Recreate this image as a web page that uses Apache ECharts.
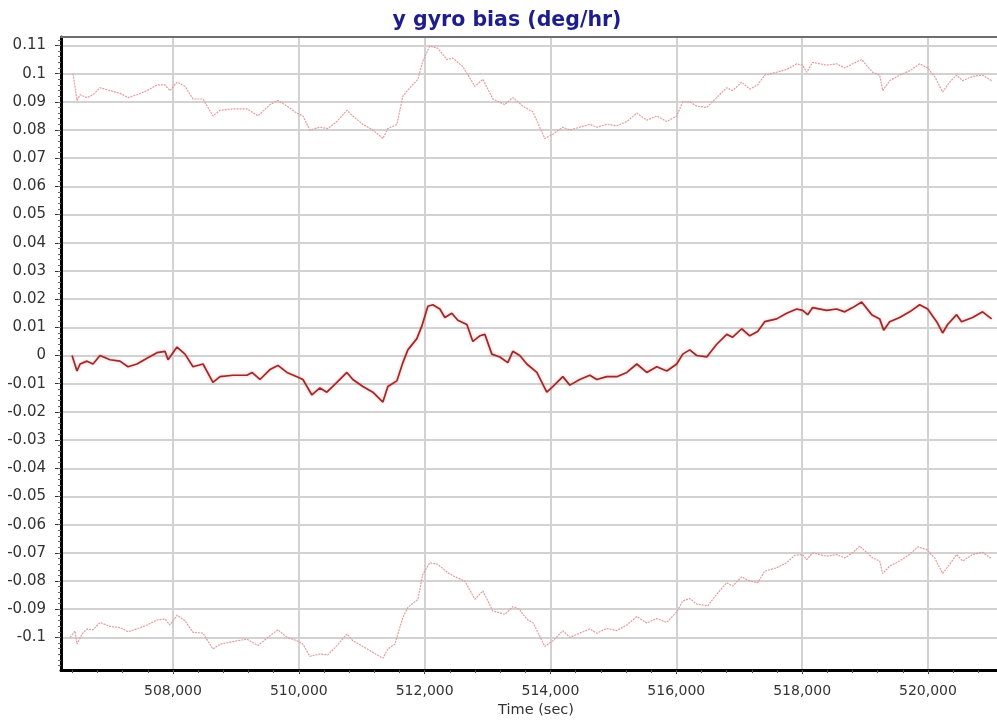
<!DOCTYPE html>
<html>
<head>
<meta charset="utf-8">
<script src="https://cdn.jsdelivr.net/npm/echarts@6/dist/echarts.min.js"></script>
<style>
html,body{margin:0;padding:0;background:#fff;}
#chart{width:997px;height:723px;}
</style>
</head>
<body>
<div id="chart"></div>
<script>
// ---- data ----
var chartTitle = 'y gyro bias (deg/hr)';
var xAxisName = 'Time (sec)';
var xTicks = [508000, 510000, 512000, 514000, 516000, 518000, 520000];
var yTicks = [-0.1, -0.09, -0.08, -0.07, -0.06, -0.05, -0.04, -0.03, -0.02, -0.01, 0, 0.01, 0.02, 0.03, 0.04, 0.05, 0.06, 0.07, 0.08, 0.09, 0.1, 0.11];

var midT = [506396,506474,506523,506634,506729,506840,506999,507158,507285,507428,507587,507746,507873,507921,508064,508191,508318,508477,508635,508747,508953,509176,509255,509382,509541,509668,509811,509970,510065,510208,510335,510446,510605,510764,510859,511018,511177,511336,511415,511558,511654,511733,511876,511956,512051,512130,512242,512321,512432,512527,512671,512766,512877,512957,513068,513195,513322,513401,513512,513624,513783,513941,514037,514196,514307,514466,514625,514736,514895,515054,515213,515372,515530,515689,515848,516007,516102,516213,516324,516483,516642,516801,516896,517039,517166,517293,517405,517595,517754,517913,518008,518088,518167,518389,518548,518676,518803,518946,519105,519232,519296,519391,519550,519709,519868,519995,520138,520233,520312,520455,520534,520709,520868,521011];
var midV = [0.0,-0.0055,-0.003,-0.002,-0.003,0.0,-0.0015,-0.002,-0.004,-0.003,-0.001,0.001,0.0015,-0.0015,0.003,0.0005,-0.004,-0.003,-0.0095,-0.0075,-0.007,-0.007,-0.006,-0.0085,-0.005,-0.0035,-0.006,-0.0075,-0.0085,-0.014,-0.0115,-0.013,-0.0095,-0.006,-0.0085,-0.011,-0.013,-0.0165,-0.011,-0.009,-0.0025,0.002,0.006,0.0105,0.0175,0.018,0.0165,0.0135,0.015,0.0125,0.011,0.005,0.007,0.0075,0.0005,-0.0005,-0.0025,0.0015,0.0,-0.003,-0.006,-0.013,-0.011,-0.0075,-0.0105,-0.0085,-0.007,-0.0085,-0.0075,-0.0075,-0.006,-0.003,-0.006,-0.004,-0.0055,-0.003,0.0005,0.002,0.0,-0.0005,0.004,0.0075,0.0065,0.0095,0.007,0.0085,0.012,0.013,0.015,0.0165,0.016,0.0145,0.017,0.016,0.0165,0.0155,0.017,0.019,0.0145,0.013,0.009,0.012,0.0135,0.0155,0.018,0.0165,0.012,0.008,0.011,0.0145,0.012,0.0135,0.0155,0.013];

var upT = [506411,506474,506523,506634,506729,506840,506999,507158,507285,507428,507587,507746,507873,507952,508064,508191,508318,508477,508635,508747,508953,509176,509350,509541,509668,509811,509970,510065,510176,510335,510462,510605,510764,510859,511018,511177,511336,511415,511558,511654,511765,511892,511971,512082,512210,512353,512448,512607,512798,512925,513084,513274,513401,513560,513671,513719,513910,514037,514196,514307,514466,514625,514736,514895,515054,515213,515372,515530,515689,515848,516007,516102,516213,516324,516483,516642,516801,516896,517039,517166,517293,517405,517595,517754,517913,518008,518072,518167,518389,518548,518676,518803,518946,519121,519232,519280,519391,519550,519709,519868,519995,520106,520233,520344,520455,520550,520709,520868,521011];
var upV = [0.100,0.0905,0.0925,0.0915,0.0925,0.095,0.094,0.093,0.0915,0.0925,0.094,0.096,0.096,0.094,0.097,0.0955,0.091,0.091,0.085,0.087,0.0875,0.0875,0.085,0.089,0.0905,0.0885,0.086,0.085,0.080,0.081,0.0805,0.083,0.087,0.085,0.082,0.080,0.077,0.0805,0.082,0.092,0.095,0.098,0.1045,0.1098,0.109,0.105,0.1055,0.1025,0.0955,0.098,0.091,0.089,0.0915,0.0885,0.087,0.0865,0.077,0.0785,0.081,0.080,0.081,0.082,0.081,0.082,0.0815,0.083,0.086,0.0835,0.085,0.083,0.085,0.090,0.090,0.0885,0.088,0.0915,0.095,0.094,0.097,0.0945,0.096,0.0995,0.1005,0.1015,0.1035,0.103,0.1005,0.104,0.103,0.1035,0.102,0.1035,0.105,0.1005,0.0995,0.094,0.0975,0.0995,0.101,0.1035,0.102,0.099,0.0935,0.097,0.0995,0.0975,0.099,0.0995,0.0975];

var loT = [506364,506443,506474,506554,506634,506729,506840,506999,507158,507285,507428,507587,507746,507873,507952,508064,508191,508318,508477,508635,508747,508953,509176,509350,509541,509668,509811,509970,510065,510176,510335,510462,510605,510764,510859,511018,511177,511336,511415,511526,511654,511733,511892,511971,512082,512210,512369,512512,512639,512798,512925,513084,513274,513401,513512,513560,513639,513719,513910,514037,514196,514307,514466,514625,514736,514895,515054,515213,515372,515530,515689,515848,516007,516102,516213,516324,516499,516642,516801,516896,517039,517166,517293,517405,517595,517754,517881,518008,518072,518167,518389,518548,518676,518803,518914,519121,519232,519280,519391,519550,519709,519836,519979,520106,520233,520344,520455,520550,520709,520868,521011];
var loV = [-0.100,-0.0977,-0.1024,-0.0988,-0.097,-0.0973,-0.0947,-0.0961,-0.0965,-0.098,-0.097,-0.0956,-0.0938,-0.0935,-0.0956,-0.0921,-0.0941,-0.0982,-0.0985,-0.1041,-0.1024,-0.1015,-0.1006,-0.1029,-0.0994,-0.0973,-0.100,-0.1012,-0.1024,-0.1067,-0.1059,-0.1062,-0.1029,-0.0988,-0.1012,-0.1032,-0.1053,-0.1074,-0.1041,-0.1024,-0.0929,-0.0894,-0.0865,-0.0776,-0.0735,-0.0741,-0.0771,-0.0788,-0.080,-0.0865,-0.0835,-0.0906,-0.0918,-0.0891,-0.090,-0.0918,-0.0938,-0.0947,-0.1032,-0.1012,-0.0976,-0.100,-0.0985,-0.097,-0.0985,-0.0968,-0.0976,-0.0956,-0.0926,-0.0949,-0.0933,-0.0947,-0.0909,-0.0871,-0.0862,-0.0882,-0.0888,-0.0847,-0.0806,-0.0818,-0.0785,-0.080,-0.0806,-0.0765,-0.0753,-0.0735,-0.0709,-0.0706,-0.0724,-0.070,-0.0712,-0.0706,-0.0718,-0.070,-0.0676,-0.0718,-0.0729,-0.0774,-0.0747,-0.0729,-0.0706,-0.0679,-0.0688,-0.0718,-0.0773,-0.0741,-0.0706,-0.0729,-0.0706,-0.0698,-0.0721];

// ---- build ----
function zip(t, v) { var o = []; for (var i = 0; i < t.length; i++) o.push([t[i], v[i]]); return o; }
var X_MIN = 506220, X_MAX = 521097, Y_MIN = -0.1116, Y_MAX = 0.113;
var xMinor = []; for (var x = 506400; x <= X_MAX; x += 400) xMinor.push(x);
var yMinor = []; for (var k = -55; k <= 56; k++) yMinor.push(+(k * 0.002).toFixed(3));

var FONT = 'DejaVu Sans';
var chart = echarts.init(document.getElementById('chart'), null, {renderer: 'canvas'});
chart.setOption({
  animation: false,
  backgroundColor: '#ffffff',
  title: {
    text: chartTitle, left: 502, top: 5, textAlign: 'center',
    textStyle: {fontFamily: FONT, fontSize: 20.5, fontWeight: 'bold', color: '#1d1d8c'}
  },
  grid: {left: 61, right: 0, top: 37, bottom: 52, containLabel: false},
  xAxis: [
    {
      type: 'value', position: 'bottom', min: X_MIN, max: X_MAX,
      name: xAxisName, nameLocation: 'middle', nameGap: 32,
      nameTextStyle: {fontFamily: FONT, fontSize: 14.5, color: '#333', padding: [0, 0, 0, 14]},
      axisLine: {show: true, onZero: false, lineStyle: {color: '#000', width: 3}},
      axisTick: {show: true, inside: false, length: 4, customValues: xTicks, lineStyle: {color: '#333', width: 1}},
      axisLabel: {show: true, customValues: xTicks, margin: 14, fontFamily: FONT, fontSize: 14, color: '#333',
        formatter: function (v) { return String(Math.round(v)).replace(/\B(?=(\d{3})+(?!\d))/g, ','); }},
      splitLine: {show: true, lineStyle: {color: '#d2d2d2', width: 2}}
    },
    {
      type: 'value', position: 'bottom', min: X_MIN, max: X_MAX,
      axisLine: {show: false, onZero: false},
      axisTick: {show: true, inside: false, length: 3, customValues: xMinor, lineStyle: {color: '#555', width: 1}},
      axisLabel: {show: false}, splitLine: {show: false}
    },
    {
      type: 'value', position: 'top', min: X_MIN, max: X_MAX,
      axisLine: {show: true, onZero: false, lineStyle: {color: '#6e6e6e', width: 2}},
      axisTick: {show: false}, axisLabel: {show: false}, splitLine: {show: false}
    }
  ],
  yAxis: [
    {
      type: 'value', position: 'left', min: Y_MIN, max: Y_MAX,
      axisLine: {show: true, onZero: false, lineStyle: {color: '#000', width: 3}},
      axisTick: {show: true, inside: false, length: 6, customValues: yTicks, lineStyle: {color: '#333', width: 1}},
      axisLabel: {show: true, customValues: yTicks, margin: 15, fontFamily: FONT, fontSize: 15, color: '#333',
        formatter: function (v) { return String(+(+v).toFixed(2)); }},
      splitLine: {show: true, lineStyle: {color: '#d2d2d2', width: 2}}
    },
    {
      type: 'value', position: 'left', min: Y_MIN, max: Y_MAX,
      axisLine: {show: false, onZero: false},
      axisTick: {show: true, inside: false, length: 3, customValues: yMinor, lineStyle: {color: '#666', width: 1}},
      axisLabel: {show: false}, splitLine: {show: false}
    }
  ],
  series: [
    {
      name: 'upper', type: 'line', data: zip(upT, upV), xAxisIndex: 0, yAxisIndex: 0,
      showSymbol: false, symbol: 'none', smooth: false,
      lineStyle: {color: '#e79a9a', width: 1.2, type: [2, 1]}
    },
    {
      name: 'lower', type: 'line', data: zip(loT, loV), xAxisIndex: 0, yAxisIndex: 0,
      showSymbol: false, symbol: 'none', smooth: false,
      lineStyle: {color: '#e79a9a', width: 1.2, type: [2, 1]}
    },
    {
      name: 'bias', type: 'line', data: zip(midT, midV), xAxisIndex: 0, yAxisIndex: 0,
      showSymbol: false, symbol: 'none', smooth: false,
      lineStyle: {color: '#9c2a2a', width: 1.7, shadowColor: 'rgba(230,110,110,0.55)', shadowBlur: 3}
    }
  ]
});
</script>
</body>
</html>
